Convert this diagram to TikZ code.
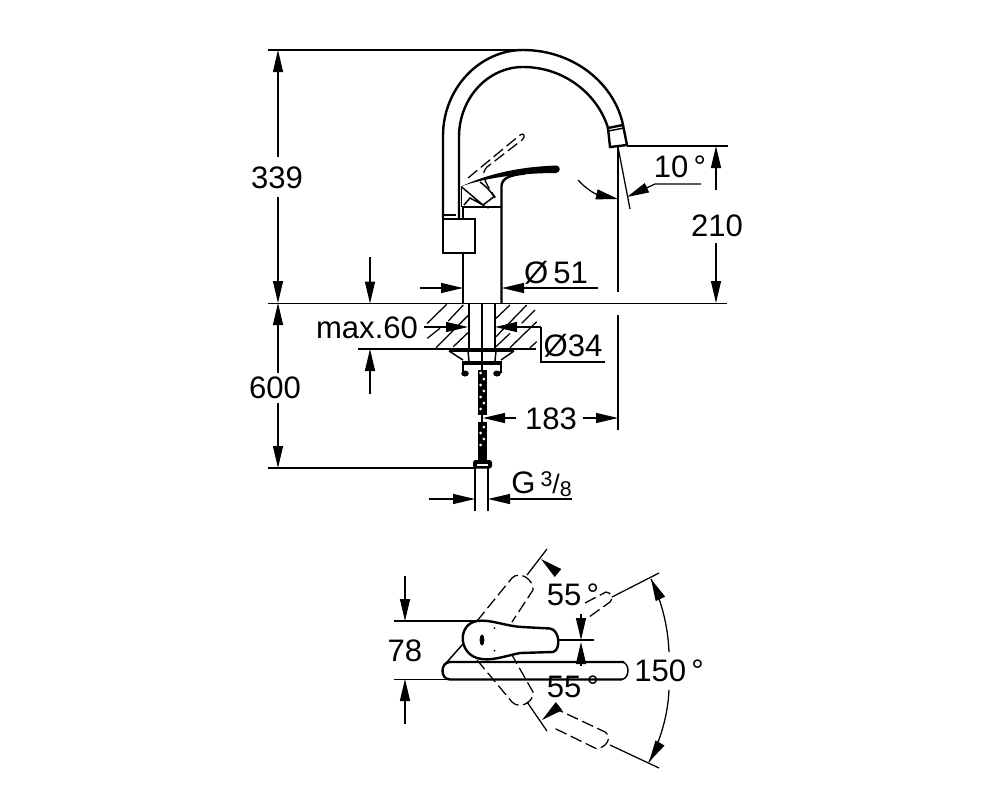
\documentclass[tikz,border=0pt]{standalone}
\usepackage{fontspec}
\setmainfont{Liberation Sans}
\usetikzlibrary{arrows.meta}

\begin{document}
\begin{tikzpicture}[x=0.75pt, y=-0.75pt, >={Triangle[length=16.5pt,width=7.5pt]}]

\tikzset{%
    dim line/.style = {
        line width=0.95pt
    },
    outline/.style = {
        line width=1.8pt
    },
    thin outline/.style = {
        line width=1.1pt
    },
    dash outline/.style = {
        line width=0.95pt,
        dash pattern=on 9pt off 3.5pt
    },
    dim label/.style = {
        inner sep=0pt,
        font=\fontsize{23.3}{28}\selectfont
    }
}

\fill [white] (0,0) rectangle (1000,800);
\useasboundingbox (0,0) rectangle (1000,800);

% spout
\draw [outline] (443,218) -- (443,136) .. controls (443,88) and (480,50) .. (523,50)
  .. controls (575,50) and (615,85) .. (623,125) -- (627,145) -- (610,147) -- (608,128);
\draw [outline] (459,218) -- (459,137) .. controls (459,98) and (488,67) .. (523,67)
  .. controls (565,67) and (598,95) .. (608,128) -- (623,125);
\draw [thin outline] (608.5,131) -- (624,128);
\draw [outline] (443,215) -- (456,215);

% body and lever
\draw [outline] (443,219) rectangle (475,253);
\draw [outline] (463,207) -- (463,219);
\draw [outline] (463,253) -- (463,303);
\draw [outline] (501.5,303) -- (501.5,186) .. controls (502,178) and (510,175) .. (525,173.5);
\draw [outline, line width=2.2pt] (462,207) -- (502,207);
\fill (461,186.5) .. controls (490,173) and (520,167) .. (556,165.5)
  .. controls (561,165.5) and (561,172.5) .. (556,173)
  .. controls (530,173) and (490,176) .. (461,186.5);
\draw [thin outline] (461.7,186) -- (461.7,207);
\draw [thin outline] (461.7,187) -- (483,205) -- (470,198) -- (464,205);
\draw [thin outline] (480,182) .. controls (488,188) and (491,192) .. (495,198);
\draw [thin outline] (483,205) -- (495,196);
\draw [dash outline] (468,178) -- (520,135) .. controls (524,132) and (526,137) .. (522,140)
  -- (487,167) .. controls (481,173) and (483,180) .. (495,197);

% axis and nozzle angle
\draw [dim line] (618,147) -- (618,292);
\draw [dim line] (618,147) -- (630,209);
\draw [dim line] (627,146) -- (728,146);
\draw [dim line] (618,315) -- (618,430);

% floor and hatching
\draw [dim line] (268,50) -- (523,50);
\draw [dim line] (268,303.5) -- (727,303.5);
\draw [dim line] (358,349) -- (536,349);
\draw [dim line] (268,468) -- (475,468);
\foreach \xa/\ya/\xb/\yb in {427.3/323.3/446.7/304.3, 448.3/321/463.3/305, 427.3/338.3/440/328.3,
    436/347.7/469.3/314.3, 453.3/346.7/469/331.7, 496/318.3/510/305, 521.7/323.3/535/310,
    496/336.7/526.7/305, 496/346.7/510/333.3, 510/347.7/536.7/321.7, 530/347.7/536.7/341.7}
  \draw [dim line] (\xa,\ya) -- (\xb,\yb);

% shank and fixing
\foreach \x in {469,482,495}
  \draw [thin outline] (\x,304) -- (\x,350);
\draw [outline] (449,350.5) -- (514,350.5);
\draw [thin outline] (449,351) -- (463,360);
\draw [thin outline] (514,351) -- (501,360);
\draw [thin outline] (468,351) -- (469,361);
\draw [thin outline] (496,351) -- (495,361);
\draw [thin outline] (482,350) -- (482,370);
\fill (463,361) rectangle (501,364.5);
\draw [thin outline] (463,361) -- (463,373);
\draw [thin outline] (501,361) -- (501,373);
\foreach \x in {465,497}
  \fill (\x,373.5) circle [x radius=3.8, y radius=3];

% hose
\fill (477.5,370) rectangle (487,415);
\fill (477.5,422) rectangle (487,460);
\foreach \y [count=\i] in {373,379,385,391,397,403,409,427,433,439,445}
  \fill [white] ({482.2+1.6*(-1)^\i},\y) circle [radius=1.5];
\draw [thin outline] (482,415) -- (482,422);
\fill [rounded corners=2pt] (473,460) rectangle (492,468.5);
\fill [white] (477,463.5) rectangle (488,465.5);
\draw [thin outline] (475,468) -- (475,511);
\draw [thin outline] (488,468) -- (488,511);

% top view
\draw [outline] (477,621) .. controls (490,619) and (505,626) .. (522,627)
  -- (550,628.5) .. controls (560,630) and (561,650) .. (553,652)
  -- (520,653) .. controls (505,656) and (490,662) .. (477,658)
  .. controls (458,652) and (458,624) .. (477,621);
\fill (482,640) ellipse [x radius=2.4, y radius=5.5];
\fill (494.5,628) circle [radius=1];
\fill (494.5,650.5) circle [radius=1];
\draw [outline] (624,662) -- (450,662) .. controls (440,662) and (440,679.5) .. (450,679.5) -- (622,679.5);
\draw [thin outline] (622,662) .. controls (630,663) and (630,678) .. (622,679.5);
\draw [thin outline] (447,662) -- (463,644);
\draw [dim line] (557,640) -- (594,640);
\draw [dim line] (394,621) -- (477,621);
\draw [dim line] (394,679.5) -- (450,679.5);
\draw [dash outline] (477,621) -- (512,578) .. controls (520,570) and (534,580) .. (533,590) -- (512,622);
\draw [dash outline] (477,660) -- (512,702) .. controls (520,710) and (534,702) .. (533,692) -- (512,655);
\draw [dash outline] (585,603) -- (606,592) .. controls (612,592) and (613,600) .. (610,602) -- (589,617);
\draw [dash outline] (552,707) -- (603,731) .. controls (610,733) and (612,745) .. (597,749) -- (554,728);
\draw [dim line] (527,575) -- (547,549);
\draw [dim line] (527,702) -- (547,731);
\draw [dim line] (612,597) -- (659,573);
\draw [dim line] (610,745) -- (659,768);
\draw [dim line] (651,579) .. controls (661,600) and (668,625) .. (669,652);
\draw [dim line] (669,690) .. controls (668,715) and (660,742) .. (649,762);

% dimension arrows
\foreach \xa/\ya/\xb/\yb in {278/157/278/50, 278/197/278/303, 278/373/278/303, 278/403/278/468,
    716/190/716/146, 716/243/716/303, 370/257/370/303.5, 370/394/370/349,
    420/288/463/288, 598/288/502/288, 424/327/468/327, 541/327/495/327,
    516/418/483/418, 583/418/618/418, 429/499/475/499, 572/499/488/499,
    405/576/405/621, 405/724/405/679, 581/614/581/640, 581/666/581/642,
    558/573/541/559, 558/707/542/720, 660/598/651/579, 660/743/649/762}
  \draw [dim line, ->] (\xa,\ya) -- (\xb,\yb);
\draw [dim line, ->] (701,184) -- (655,184) -- (627,197);
\draw [dim line, ->] (578,180) .. controls (585,188) and (595,194) .. (618,199);
\draw [dim line] (541,327) -- (541,362) -- (605,362);

% labels
\node [dim label] (height-top) at (277,178) {339};
\node [dim label] (height-spout) at (717,226) {210};
\node [dim label] (height-hose) at (275,388) {600};
\node [dim label] (angle-spout) at (680,167) {10\,°};
\node [dim label] (dia-body) at (556,273) {Ø\,51};
\node [dim label] (dia-shank) at (573,346) {Ø34};
\node [dim label] (max-thick) at (367,328) {max.60};
\node [dim label] (reach) at (551,419) {183};
\node [dim label, anchor=west] (thread) at (511,484) {G\,\raisebox{5pt}{\fontsize{16}{16}\selectfont 3}{\fontsize{20}{20}\selectfont/}\raisebox{-2pt}{\fontsize{16}{16}\selectfont 8}};
\node [dim label] (depth) at (405,651) {78};
\node [dim label] (angle-up) at (573,595) {55\,°};
\node [dim label] (angle-down) at (573,687) {55\,°};
\node [dim label] (angle-full) at (669,671) {150\,°};

\end{tikzpicture}
\end{document}
